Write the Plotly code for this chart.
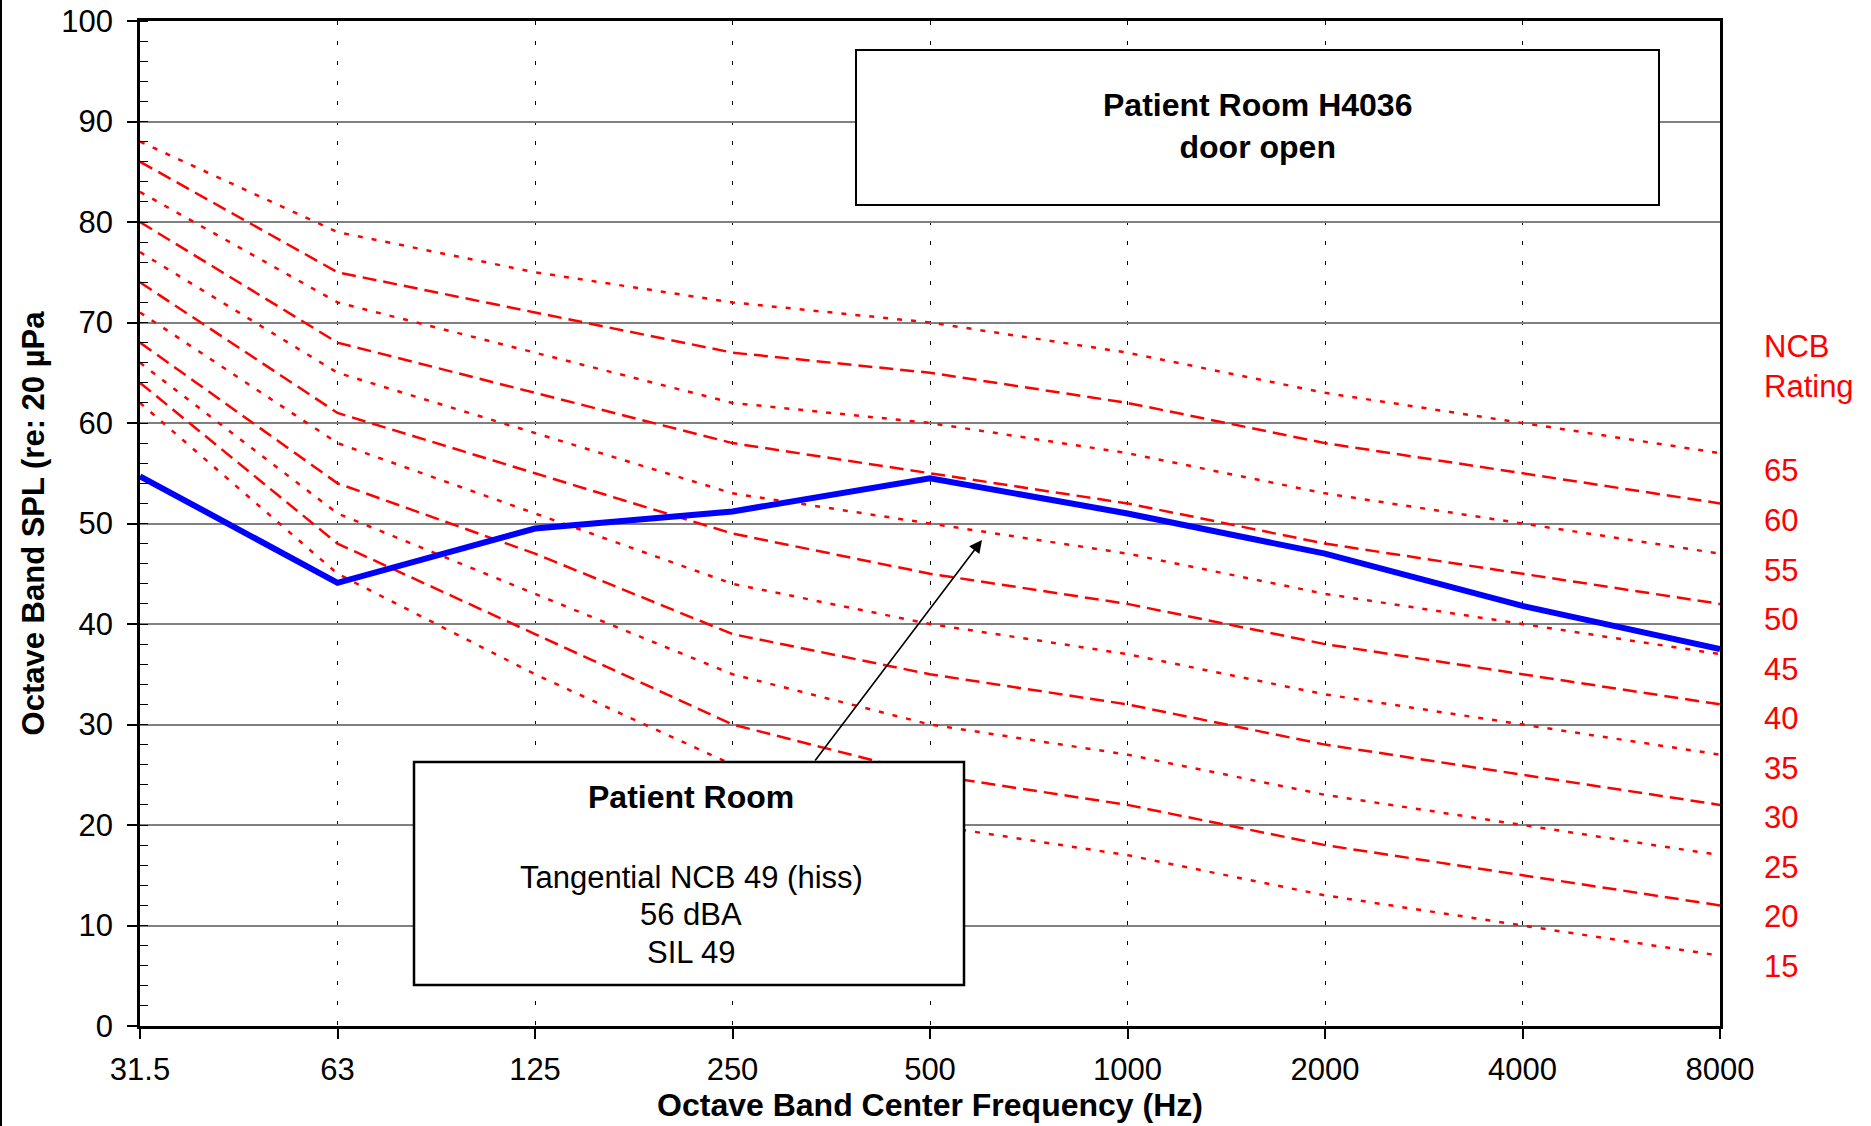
import plotly.graph_objects as go

# ---------------- data ----------------
freq_labels = ["31.5", "63", "125", "250", "500", "1000", "2000", "4000", "8000"]

ncb_ratings = [65, 60, 55, 50, 45, 40, 35, 30, 25, 20, 15]
ncb65 = [88, 79, 75, 72, 70, 67, 63, 60, 57]
ncb60 = [86, 75, 71, 67, 65, 62, 58, 55, 52]
ncb55 = [83, 72, 67, 62, 60, 57, 53, 50, 47]
ncb50 = [80, 68, 63, 58, 55, 52, 48, 45, 42]
ncb45 = [77, 65, 59, 53, 50, 47, 43, 40, 37]
ncb40 = [74, 61, 55, 49, 45, 42, 38, 35, 32]
ncb35 = [71, 58, 51, 44, 40, 37, 33, 30, 27]
ncb30 = [68, 54, 47, 39, 35, 32, 28, 25, 22]
ncb25 = [66, 51, 43, 35, 30, 27, 23, 20, 17]
ncb20 = [64, 48, 39, 30, 25, 22, 18, 15, 12]
ncb15 = [62, 45, 35, 26, 20, 17, 13, 10, 7]
ncb_curves = [ncb65, ncb60, ncb55, ncb50, ncb45, ncb40, ncb35, ncb30, ncb25, ncb20, ncb15]

measured_spl = [54.7, 44.1, 49.5, 51.2, 54.5, 51.0, 47.0, 41.8, 37.5]

y_ticks = [0, 10, 20, 30, 40, 50, 60, 70, 80, 90, 100]

title_box_lines = ["Patient Room H4036", "door open"]
info_title = "Patient Room"
info_lines = ["Tangential NCB 49 (hiss)", "56 dBA", "SIL 49"]

# ---------------- layout geometry ----------------
W, H = 1871, 1126
L, R, T, B = 140, 151, 21, 100
PW = W - L - R
PH = H - T - B
FONT = "Liberation Sans, Arial, sans-serif"


def px_to_paper_x(px):
    return (px - L) / PW


def px_to_paper_y(py):
    return (H - B - py) / PH


xs = list(range(len(freq_labels)))

fig = go.Figure()

for rating, vals in zip(ncb_ratings, ncb_curves):
    dotted = (rating % 10) == 5
    fig.add_trace(go.Scatter(
        x=xs, y=vals, mode="lines",
        line=dict(color="#FF0000", width=2.5,
                  dash="5px,9px" if dotted else "14px,7px"),
        name=f"NCB {rating}", showlegend=False, hoverinfo="skip"))

fig.add_trace(go.Scatter(
    x=xs, y=measured_spl, mode="lines",
    line=dict(color="#0000FF", width=6),
    name="Patient Room", showlegend=False))

shapes = []
# title box
shapes.append(dict(type="rect", xref="paper", yref="paper",
                   x0=px_to_paper_x(856), x1=px_to_paper_x(1659),
                   y0=px_to_paper_y(205), y1=px_to_paper_y(50),
                   line=dict(color="black", width=2), fillcolor="white",
                   layer="above"))
# info box
shapes.append(dict(type="rect", xref="paper", yref="paper",
                   x0=px_to_paper_x(414), x1=px_to_paper_x(964),
                   y0=px_to_paper_y(985), y1=px_to_paper_y(762),
                   line=dict(color="black", width=2.5), fillcolor="white",
                   layer="above"))
# image left border
shapes.append(dict(type="line", xref="paper", yref="paper",
                   x0=px_to_paper_x(1), x1=px_to_paper_x(1),
                   y0=px_to_paper_y(H), y1=px_to_paper_y(0),
                   line=dict(color="black", width=2)))

annotations = []
annotations.append(dict(
    xref="paper", yref="paper", x=px_to_paper_x(1257), y=px_to_paper_y(126),
    text="<b>" + "<br>".join(title_box_lines) + "</b>", showarrow=False,
    font=dict(family=FONT, size=32, color="black"), align="center",
    xanchor="center", yanchor="middle"))
annotations.append(dict(
    xref="paper", yref="paper", x=px_to_paper_x(691), y=px_to_paper_y(797),
    text="<b>" + info_title + "</b>", showarrow=False,
    font=dict(family=FONT, size=32, color="black"),
    xanchor="center", yanchor="middle"))
for i, line in enumerate(info_lines):
    annotations.append(dict(
        xref="paper", yref="paper", x=px_to_paper_x(691),
        y=px_to_paper_y(877 + i * 37.5),
        text=line, showarrow=False,
        font=dict(family=FONT, size=31, color="black"),
        xanchor="center", yanchor="middle"))

# arrow from the info box toward the curve
octave_px = PW / (len(freq_labels) - 1)
dB_px = PH / 100.0
annotations.append(dict(
    x=(982 - L) / octave_px, y=(H - B - 540) / dB_px,
    ax=(814 - L) / octave_px, ay=(H - B - 762) / dB_px,
    xref="x", yref="y", axref="x", ayref="y",
    text="", showarrow=True, arrowhead=2, arrowsize=1.6, arrowwidth=1.6,
    arrowcolor="black", standoff=0, startstandoff=0))

# NCB rating labels on the right
annotations.append(dict(
    xref="paper", yref="paper", x=px_to_paper_x(1762), y=px_to_paper_y(367),
    text="NCB<br>Rating", showarrow=False, align="left",
    font=dict(family=FONT, size=31, color="#FF0000"),
    xanchor="left", yanchor="middle"))
for i, rating in enumerate(ncb_ratings):
    annotations.append(dict(
        xref="paper", yref="paper", x=px_to_paper_x(1762),
        y=px_to_paper_y(471 + i * 49.5),
        text=str(rating), showarrow=False,
        font=dict(family=FONT, size=31, color="#FF0000"),
        xanchor="left", yanchor="middle"))

fig.update_layout(
    width=W, height=H,
    margin=dict(l=L, r=R, t=T, b=B, pad=0, autoexpand=False),
    paper_bgcolor="white", plot_bgcolor="white",
    font=dict(family=FONT, size=31, color="black"),
    shapes=shapes, annotations=annotations,
    showlegend=False,
)

fig.update_xaxes(
    range=[0, len(freq_labels) - 1], automargin=False,
    tickmode="array", tickvals=xs, ticktext=freq_labels,
    ticks="outside", ticklen=10, tickwidth=1.5, tickcolor="black",
    tickfont=dict(family=FONT, size=31, color="black"),
    ticklabelstandoff=4,
    showgrid=True, gridcolor="black", gridwidth=1.2, griddash="4px,16px",
    showline=True, linecolor="black", linewidth=2.5, mirror=True,
    zeroline=False,
    title=dict(text="<b>Octave Band Center Frequency (Hz)</b>",
               font=dict(family=FONT, size=32, color="black"), standoff=4),
)

fig.update_yaxes(
    range=[0, 100], automargin=False,
    tickmode="array", tickvals=y_ticks,
    ticks="outside", ticklen=10, tickwidth=1.5, tickcolor="black",
    tickfont=dict(family=FONT, size=31, color="black"),
    ticklabelstandoff=8,
    showgrid=True, gridcolor="#808080", gridwidth=1.5,
    minor=dict(dtick=2, ticks="inside", ticklen=8, tickwidth=1.2,
               tickcolor="black", showgrid=False),
    showline=True, linecolor="black", linewidth=2.5, mirror=True,
    zeroline=False,
    title=dict(text="<b>Octave Band SPL (re: 20 µPa</b>",
               font=dict(family=FONT, size=31, color="black"), standoff=8),
)

fig.write_html(
    "out.html",
    config={"displayModeBar": False},
    post_script="document.body.style.margin='0';"
                "document.body.style.overflow='hidden';",
)
